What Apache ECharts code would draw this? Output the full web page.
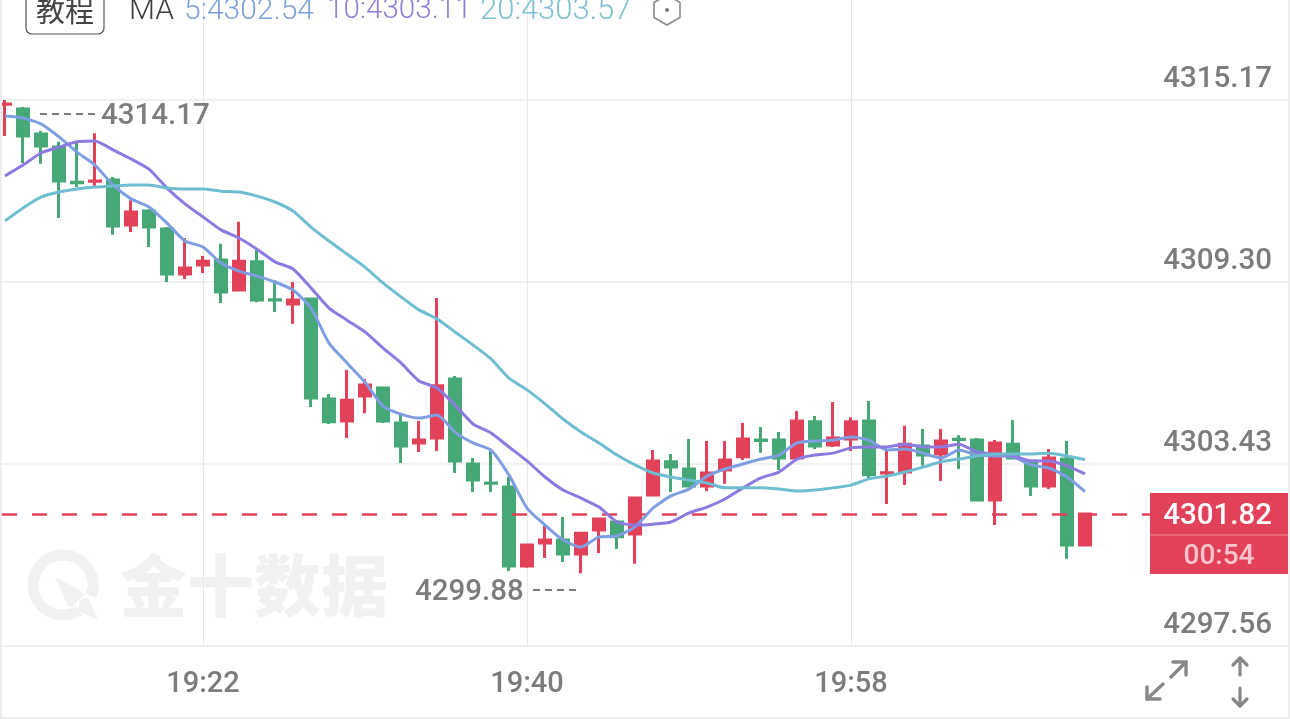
<!DOCTYPE html>
<html><head><meta charset="utf-8">
<style>html,body{margin:0;padding:0;background:#fff;overflow:hidden}#c{width:1290px;height:719px}</style>
<script src="https://cdn.jsdelivr.net/npm/echarts@6/dist/echarts.min.js"></script>
</head><body><div id="c"></div>
<script>
var categories = ["19:11","19:12","19:13","19:14","19:15","19:16","19:17","19:18","19:19","19:20","19:21","19:22","19:23","19:24","19:25","19:26","19:27","19:28","19:29","19:30","19:31","19:32","19:33","19:34","19:35","19:36","19:37","19:38","19:39","19:40","19:41","19:42","19:43","19:44","19:45","19:46","19:47","19:48","19:49","19:50","19:51","19:52","19:53","19:54","19:55","19:56","19:57","19:58","19:59","20:00","20:01","20:02","20:03","20:04","20:05","20:06","20:07","20:08","20:09","20:10","20:11","20:12","20:13","20:14","20:15","20:16","20:17","20:18","20:19","20:20","20:21","20:22"];
var xLabels = ["19:22","19:40","19:58"];
var yTicks = [4297.56,4303.43,4309.30,4315.17];
var lastPrice = 4301.82;
// open, close, low, high
var candles = [
[4315.03,4315.04,4314.01,4315.17],[4314.88,4314.01,4313.14,4314.94],[4314.07,4313.69,4313.11,4314.17],[4313.65,4312.56,4311.36,4313.82],
[4312.52,4312.50,4312.36,4313.82],[4312.55,4312.56,4312.40,4314.10],[4312.59,4311.11,4310.82,4312.69],[4311.14,4311.56,4310.91,4311.94],
[4311.59,4311.07,4310.43,4311.65],[4311.01,4309.56,4309.30,4311.07],[4309.56,4309.75,4309.40,4310.72],[4309.85,4309.97,4309.59,4310.14],
[4310.01,4308.98,4308.62,4310.53],[4309.04,4309.97,4309.01,4311.24],[4309.95,4308.72,4308.65,4310.33],[4308.73,4308.72,4308.33,4309.36],
[4308.59,4308.72,4307.95,4309.30],[4308.75,4305.56,4305.27,4308.78],[4305.53,4304.79,4304.72,4305.69],[4304.82,4305.49,4304.27,4306.46],
[4305.62,4305.98,4305.07,4306.17],[4305.88,4304.82,4304.75,4305.91],[4304.75,4304.01,4303.46,4305.07],[4304.11,4304.20,4303.82,4304.82],
[4304.27,4305.95,4303.85,4308.78],[4306.17,4303.53,4303.14,4306.27],[4303.43,4302.91,4302.53,4303.62],[4302.82,4302.81,4302.53,4303.88],
[4302.69,4300.14,4299.98,4303.01],[4300.14,4300.82,4300.08,4300.85],[4300.88,4300.98,4300.40,4301.43],[4300.98,4300.53,4300.27,4301.72],
[4300.53,4301.20,4299.91,4301.24],[4301.30,4301.66,4300.56,4301.69],[4301.56,4301.08,4300.69,4301.62],[4301.17,4302.33,4300.21,4302.37],
[4302.43,4303.53,4302.40,4303.88],[4303.50,4303.33,4302.53,4303.75],[4303.27,4302.72,4302.69,4304.24],[4302.72,4303.14,4302.56,4304.17],
[4303.24,4303.56,4302.79,4304.17],[4303.66,4304.24,4303.56,4304.75],[4304.20,4304.19,4303.79,4304.62],[4304.20,4303.62,4303.24,4304.46],
[4303.62,4304.82,4303.56,4305.14],[4304.79,4304.01,4303.91,4304.98],[4304.04,4304.27,4303.98,4305.43],[4304.24,4304.79,4303.85,4304.94],
[4304.82,4303.08,4302.95,4305.46],[4303.14,4303.15,4302.14,4303.88],[4303.17,4304.07,4302.75,4304.66],[4304.01,4303.72,4303.37,4304.56],
[4303.75,4304.17,4302.88,4304.56],[4304.23,4304.22,4303.27,4304.36],[4304.20,4302.27,4302.24,4304.27],[4302.27,4304.11,4301.46,4304.20],
[4304.07,4303.62,4303.59,4304.85],[4303.53,4302.72,4302.40,4303.56],[4302.72,4303.62,4302.62,4303.91],[4303.59,4300.82,4300.37,4304.17],
[4300.82,4301.82,4300.82,4301.85]];
var ma5 = [4314.65,4314.59,4314.40,4313.98,4313.49,4313.07,4312.43,4311.98,4311.72,4311.20,4310.62,4310.43,4309.91,4309.65,4309.49,4309.30,4309.04,4308.46,4307.33,4306.69,4306.07,4305.30,4305.04,4304.91,4305.01,4304.46,4304.11,4303.88,4303.07,4302.01,4301.46,4300.98,4300.75,4301.08,4301.11,4301.40,4302.01,4302.40,4302.62,4303.04,4303.27,4303.43,4303.59,4303.72,4304.11,4304.17,4304.20,4304.30,4304.20,4303.88,4303.91,4303.78,4303.62,4303.88,4303.72,4303.69,4303.66,4303.40,4303.30,4303.01,4302.54];
var ma10 = [4312.72,4313.07,4313.46,4313.65,4313.82,4313.85,4313.56,4313.27,4312.94,4312.33,4311.82,4311.40,4310.98,4310.72,4310.36,4309.95,4309.72,4309.11,4308.46,4308.07,4307.69,4307.17,4306.69,4306.11,4305.88,4305.33,4304.72,4304.43,4303.98,4303.53,4303.01,4302.59,4302.33,4302.04,4301.56,4301.46,4301.49,4301.56,4301.85,4302.04,4302.30,4302.66,4302.98,4303.17,4303.59,4303.72,4303.78,4303.95,4303.98,4303.98,4304.07,4303.98,4303.98,4304.07,4303.82,4303.75,4303.69,4303.53,4303.53,4303.37,4303.11];
var ma20 = [4311.27,4311.69,4312.04,4312.20,4312.30,4312.36,4312.40,4312.43,4312.43,4312.33,4312.30,4312.30,4312.23,4312.20,4312.07,4311.88,4311.59,4311.07,4310.62,4310.20,4309.78,4309.27,4308.82,4308.40,4308.11,4307.69,4307.27,4306.82,4306.20,4305.82,4305.37,4304.88,4304.46,4304.11,4303.72,4303.40,4303.14,4303.01,4302.91,4302.82,4302.66,4302.66,4302.66,4302.62,4302.56,4302.59,4302.66,4302.75,4302.95,4303.04,4303.17,4303.33,4303.50,4303.59,4303.69,4303.75,4303.75,4303.75,4303.78,4303.69,4303.57];

var RED='#e1425a', GREEN='#45a876', GREY='#7c7c7c', WM='#f1f1f1';
var FONT='Roboto, "Noto Sans", sans-serif', CJK='"Noto Sans CJK SC", sans-serif';
function isLabelled(i){ return xLabels.indexOf(categories[i])>=0; }
function txt(x,y,t,size,color,align,extra){
  return {type:'text',x:x,y:y,z:62,style:Object.assign({text:t,fontFamily:FONT,fontSize:size,fill:color,align:align||'left',verticalAlign:'middle'},extra||{})};
}
function poly(points,color,w,z,closed){
  return {type:closed?'polygon':'polyline',z:z||50,shape:{points:points},style:closed?{fill:color,stroke:null}:{fill:null,stroke:color,lineWidth:w,lineCap:'round',lineJoin:'round'}};
}
var graphics=[
  // watermark
  {type:'arc',z:0,shape:{cx:63,cy:585,r:30,startAngle:Math.PI*0.32,endAngle:Math.PI*0.12,clockwise:true},style:{fill:null,stroke:WM,lineWidth:11}},
  poly([[55,577],[80,590],[84,595],[72,607],[68,606]],WM,0,0,true),
  poly([[98,620],[78,611],[80,600],[88,597]],WM,0,0,true),
  {type:'text',x:120,y:586,z:0,style:{text:'金十数据',fontFamily:CJK,fontWeight:900,fontSize:67,fill:WM,verticalAlign:'middle'}},
  // header
  {type:'rect',z:50,shape:{x:26,y:-12,width:78,height:46,r:6},style:{fill:'#fff',stroke:'#555',lineWidth:1.2}},
  {type:'text',x:65,y:11,z:51,style:{text:'教程',fontFamily:CJK,fontSize:29,fill:'#444',align:'center',verticalAlign:'middle'}},
  txt(129,11,'MA',30,'#3c3c3c','left',{fontWeight:300}),
  txt(184,11,'5:4302.54',30,'#7f9fdc','left',{fontWeight:300}),
  txt(327,11,'10:4303.11',29.6,'#8e80d8','left',{fontWeight:300}),
  txt(480,11,'20:4303.57',31,'#7fc0d4','left',{fontWeight:300}),
  poly([[667,-5],[680,2.5],[680,17.5],[667,25],[654,17.5],[654,2.5],[667,-5]],'#8a8a8a',1.6),
  {type:'circle',z:50,shape:{cx:667,cy:10,r:2},style:{fill:'#777'}},
  // extreme labels
  txt(101,117,'4314.17',29.5,GREY,'left',{fontWeight:500}),
  {type:'line',z:50,shape:{x1:40,y1:114,x2:97,y2:114},style:{stroke:GREY,lineWidth:2,lineDash:[7,5]}},
  txt(415,593,'4299.88',29.5,GREY,'left',{fontWeight:500}),
  {type:'line',z:50,shape:{x1:533,y1:590,x2:577,y2:590},style:{stroke:GREY,lineWidth:2,lineDash:[7,5]}},
  // price box
  {type:'rect',z:60,shape:{x:1150,y:493,width:138,height:81},style:{fill:RED}},
  {type:'line',z:61,shape:{x1:1150,y1:535,x2:1288,y2:535},style:{stroke:'#f08a98',lineWidth:1}},
  txt(1272,517,'4301.82',29.5,'#fff','right',{fontWeight:500}),
  txt(1219,557,'00:54',28,'#fbc3cb','center',{fontWeight:500}),
  // icons
  poly([[1173,662],[1186,662],[1186,675]],'#888',3.4),
  poly([[1186,662],[1171,677]],'#888',3.4),
  poly([[1147,687],[1147,699],[1160,699]],'#888',3.4),
  poly([[1147,699],[1163,684]],'#888',3.4),
  poly([[1233,665],[1240,658],[1247,665]],'#888',3.2),
  poly([[1240,658],[1240,675]],'#888',3.2),
  poly([[1233,699],[1240,706],[1247,699]],'#888',3.2),
  poly([[1240,688],[1240,706]],'#888',3.2),
  // page frame
  {type:'rect',z:70,shape:{x:0,y:0,width:2,height:719},style:{fill:'#ededed'}},
  {type:'rect',z:70,shape:{x:1288,y:0,width:2,height:719},style:{fill:'#ededed'}},
  {type:'rect',z:70,shape:{x:0,y:717,width:1290,height:2},style:{fill:'#ededed'}}
];
function maSeries(name,data,color){
  return {name:name,type:'line',data:data,smooth:0.2,showSymbol:false,symbol:'none',z:5,
    lineStyle:{color:color,width:3},itemStyle:{color:color},animation:false};
}
var chart=echarts.init(document.getElementById('c'),null,{renderer:'canvas'});
chart.setOption({
  animation:false,
  backgroundColor:'#fff',
  grid:{left:-4,width:1296,top:0,height:646,containLabel:false,outerBoundsMode:'none'},
  xAxis:{type:'category',data:categories,boundaryGap:true,
    axisLine:{show:false},
    axisTick:{show:false},
    axisLabel:{interval:function(i){return isLabelled(i);},color:GREY,fontFamily:FONT,fontWeight:500,fontSize:29,margin:24},
    splitLine:{show:false}},
  yAxis:{type:'value',position:'right',min:4297.56,max:4318.395,
    axisLine:{show:false},
    axisTick:{show:false,customValues:yTicks},
    axisLabel:{inside:true,customValues:yTicks,margin:20,color:GREY,fontFamily:FONT,fontWeight:500,fontSize:29.5,verticalAlign:'bottom',padding:[0,0,5,0],
      formatter:function(v){return Number(v).toFixed(2);}},
    splitLine:{show:true,lineStyle:{color:'#f0f0f0',width:2}}},
  graphic:graphics,
  series:[
    {name:'timeGrid',type:'line',data:[],z:1,silent:true,
      markLine:{silent:true,symbol:'none',z:1,animation:false,label:{show:false},
        lineStyle:{color:'#e8e8e8',type:'solid',width:1},
        data:xLabels.map(function(t){return {xAxis:t};})}},
    {name:'K',type:'candlestick',data:candles,barWidth:12,z:3,clip:false,
      itemStyle:{color:RED,color0:GREEN,borderColor:RED,borderColor0:GREEN,borderColorDoji:RED,borderWidth:3},
      markLine:{silent:true,symbol:'none',z:4,label:{show:false},
        lineStyle:{color:RED,type:[15,15],dashOffset:24,width:2.5},
        data:[{yAxis:lastPrice}]}},
    maSeries('MA5',ma5,'#7f9ee2'),
    maSeries('MA10',ma10,'#8c7ae0'),
    maSeries('MA20',ma20,'#6fbdd0')
  ]
});
</script></body></html>
